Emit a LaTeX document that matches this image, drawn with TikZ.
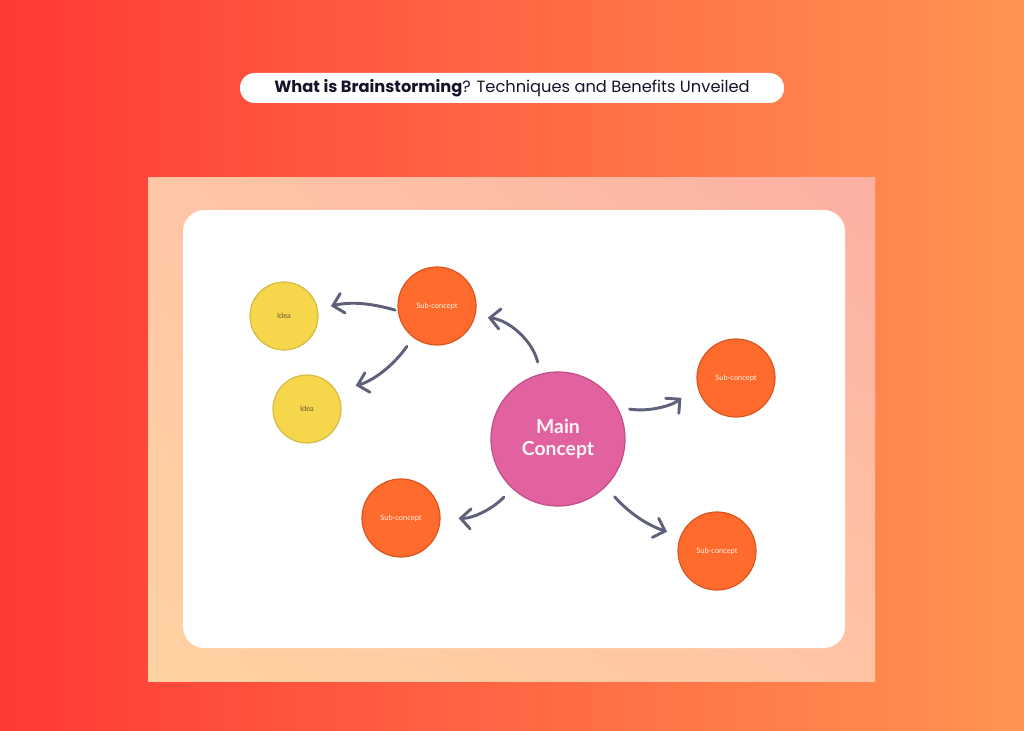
\documentclass[tikz,border=0pt]{standalone}
\usepackage{fontspec}
\setmainfont{Lato}
\newfontfamily\titlefont{Poppins}
\usetikzlibrary{arrows.meta,shadings}
\definecolor{bgL}{HTML}{FF3A35}
\definecolor{bgR}{HTML}{FF9452}
\definecolor{frUL}{HTML}{FFC6A6}
\definecolor{frUR}{HTML}{FCB0A2}
\definecolor{frLL}{HTML}{FFD2A2}
\definecolor{frLR}{HTML}{FFC4A4}
\definecolor{pinkF}{HTML}{E2619F}
\definecolor{pinkD}{HTML}{C24D88}
\definecolor{orF}{HTML}{FF6B2C}
\definecolor{orD}{HTML}{D9541E}
\definecolor{yeF}{HTML}{F6D64A}
\definecolor{yeD}{HTML}{D6BA46}
\definecolor{arrc}{HTML}{5F607A}
\definecolor{titc}{HTML}{14142B}
\definecolor{ideaT}{HTML}{6A5A30}
\tikzset{
  mainnode/.style={circle, draw=pinkD, fill=pinkF, line width=0.9pt, minimum size=100.5pt, inner sep=0pt,
    text=white!94!pinkF, font=\bfseries\fontsize{14.5}{17}\selectfont, align=center},
  subnode/.style={circle, draw=orD, fill=orF, line width=0.9pt, minimum size=58.5pt, inner sep=0pt,
    text=white!92!orange, font=\fontsize{5.6}{7}\selectfont},
  ideanode/.style={circle, draw=yeD, fill=yeF, line width=0.9pt, minimum size=51pt, inner sep=0pt,
    text=ideaT, font=\fontsize{5.6}{7}\selectfont},
  conn/.style={draw=arrc, line width=2.2pt, line cap=round,
    -{Straight Barb[length=7.5pt,width=15pt,line cap=round]}},
  pill/.style={fill=white, rounded corners=11pt, minimum width=408pt, minimum height=22.5pt, inner sep=0pt,
    text=titc, font=\titlefont\fontsize{12.2}{14}\selectfont}
}
\begin{document}
\begin{tikzpicture}[x=0.75pt,y=-0.75pt]
\useasboundingbox (0,0) rectangle (1024,731);
\shade[left color=bgL, right color=bgR] (0,0) rectangle (1024,731);
\shade[upper left=frUL, upper right=frUR, lower left=frLL, lower right=frLR] (148,178) rectangle (875,681);
\fill[white, rounded corners=16pt] (183,210) rectangle (845,648);

\node[pill] (title) at (512,88) {\textbf{What is Brainstorming}? Techniques and Benefits Unveiled};

\node[mainnode] (main) at (558,439) {Main\\Concept};
\node[subnode] (sc1) at (437,306) {Sub-concept};
\node[ideanode] (idea1) at (284,316) {Idea};
\node[ideanode] (idea2) at (307,409) {Idea};
\node[subnode] (sc2) at (736,378) {Sub-concept};
\node[subnode] (sc3) at (401,518) {Sub-concept};
\node[subnode] (sc4) at (717,551) {Sub-concept};

\draw[conn, shorten <=2pt, shorten >=10pt] (sc1.187) to[bend right=15] (idea1.11);
\draw[conn, shorten <=8pt, shorten >=15pt] (sc1.233) to[bend left=20] (idea2.32);
\draw[conn, shorten <=9pt, shorten >=9.5pt] (main.105) to[bend right=35] (sc1.345);
\draw[conn, shorten <=9pt, shorten >=15.5pt] (main.28) to[bend right=25] (sc2.189);
\draw[conn, shorten <=9pt, shorten >=13.5pt] (main.227) to[bend left=25] (sc3.1);
\draw[conn, shorten <=10pt, shorten >=10.5pt] (main.315) to[bend right=15] (sc4.158);
\end{tikzpicture}
\end{document}
